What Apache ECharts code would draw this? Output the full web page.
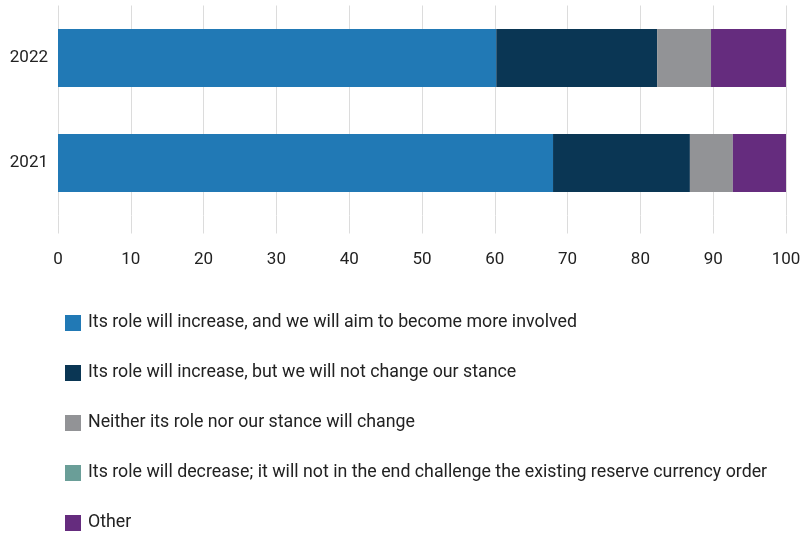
<!DOCTYPE html>
<html>
<head>
<meta charset="utf-8">
<script src="https://cdn.jsdelivr.net/npm/echarts@6/dist/echarts.min.js"></script>
<style>
  html, body { margin: 0; padding: 0; background: #fff; }
  #chart { width: 809px; height: 536px; }
</style>
</head>
<body>
<div id="chart"></div>
<script>
// Survey years (bottom to top) and answer shares, in percent
const years = ['2021', '2022'];
const seriesNames = [
  'Its role will increase, and we will aim to become more involved',
  'Its role will increase, but we will not change our stance',
  'Neither its role nor our stance will change',
  'Its role will decrease; it will not in the end challenge the existing reserve currency order',
  'Other'
];
const increaseInvolved = [68.0, 60.2];
const increaseSameStance = [18.8, 22.1];
const noChange = [5.9, 7.4];
const decrease = [0, 0];
const other = [7.3, 10.3];
const xTicks = { min: 0, max: 100, interval: 10 };

const colors = ['#2179b5', '#0a3654', '#929396', '#6a9e98', '#652c7e'];
const values = [increaseInvolved, increaseSameStance, noChange, decrease, other];
const FONT = '"Roboto", sans-serif';

const chart = echarts.init(document.getElementById('chart'));
chart.setOption({
  animation: false,
  textStyle: { fontFamily: FONT },
  grid: { left: 58, right: 23, top: 5.5, height: 210, containLabel: false },
  legend: {
    orient: 'vertical',
    left: 65,
    top: 314,
    height: 222,
    padding: 0,
    itemWidth: 16,
    itemHeight: 16,
    itemGap: 32,
    icon: 'rect',
    selectedMode: false,
    textStyle: { fontFamily: FONT, fontSize: 17.8, color: '#222', padding: [0, 0, 0, 2] },
    data: seriesNames
  },
  xAxis: {
    type: 'value',
    min: xTicks.min,
    max: xTicks.max,
    interval: xTicks.interval,
    axisLine: { show: false },
    axisTick: { show: true, length: 18, lineStyle: { color: '#dcdcdc', width: 1 } },
    splitLine: { show: true, lineStyle: { color: '#dcdcdc', width: 1 } },
    axisLabel: { margin: 36, fontSize: 17, color: '#222', fontFamily: FONT }
  },
  yAxis: {
    type: 'category',
    data: years,
    axisLine: { show: false },
    axisTick: { show: false },
    axisLabel: { margin: 10, fontSize: 17, color: '#222', fontFamily: FONT }
  },
  series: seriesNames.map((name, i) => ({
    name,
    type: 'bar',
    stack: 'total',
    barWidth: 58,
    itemStyle: { color: colors[i] },
    data: values[i]
  }))
});
</script>
</body>
</html>
